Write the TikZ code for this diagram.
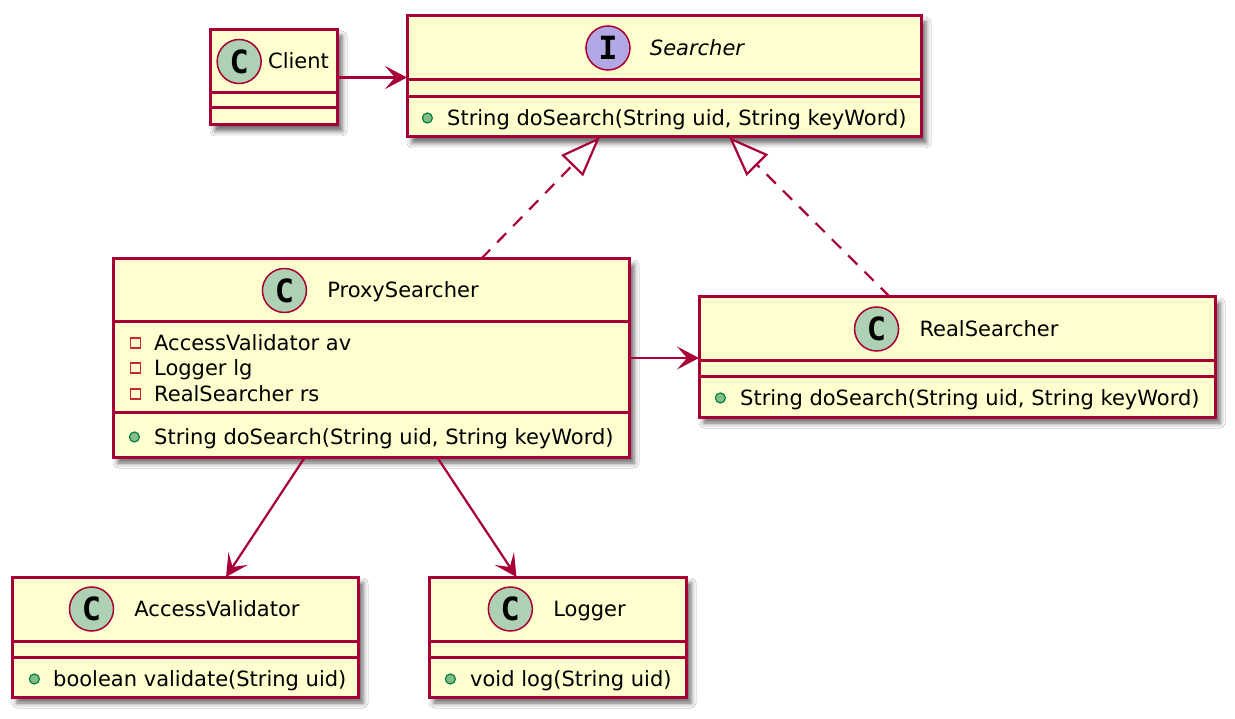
\documentclass[tikz,border=0pt]{standalone}
\usepackage{fontspec}
\setmainfont{DejaVu Sans}
\newfontfamily\iconfont{DejaVu Sans Mono}
\usetikzlibrary{positioning,arrows.meta,shadows.blur}
\definecolor{umlred}{HTML}{A80036}
\definecolor{umlfill}{HTML}{FEFECE}
\definecolor{umlgreen}{HTML}{ADD1B2}
\definecolor{umlviolet}{HTML}{B4A7E5}
\definecolor{pubfill}{HTML}{84BE84}
\definecolor{pubdraw}{HTML}{038048}
\definecolor{privdraw}{HTML}{C82930}
\newcommand\umlfont{\fontsize{21}{25}\selectfont}
\tikzset{
	classbox/.style={draw=umlred,fill=umlfill,line width=3pt,anchor=north west,
		inner sep=0pt,outer sep=0pt,
		blur shadow={shadow xshift=5pt,shadow yshift=-6pt,shadow blur radius=5pt,shadow opacity=60}},
	classline/.style={draw=umlred,line width=3pt},
	classicon/.style={circle,draw=umlred,line width=1.5pt,fill=umlgreen,minimum size=44pt,
		inner sep=0pt,font=\iconfont\bfseries\fontsize{32}{32}\selectfont},
	classname/.style={inner sep=0pt,text height=15pt,text depth=0pt},
	member/.style={anchor=west,inner sep=0pt,text height=15pt,text depth=0pt},
	pubdot/.style={circle,draw=pubdraw,fill=pubfill,line width=1.2pt,minimum size=10pt,inner sep=0pt},
	privbox/.style={rectangle,draw=privdraw,line width=1.5pt,minimum size=10pt,inner sep=0pt},
	assoc/.style={draw=umlred,line width=2.2pt,-{Stealth[length=22pt,width=23pt,inset=10pt]}},
	realize/.style={draw=umlred,line width=2.2pt,dash pattern=on 13pt off 10pt,
		-{Triangle[open,fill=white,length=40pt,width=30pt]}}
}
% separator line inside a class box, #2 below its top
\newcommand\umlsep[2]{\draw[classline]([yshift=-#2pt]#1.north west)--([yshift=-#2pt]#1.north east);}
\begin{document}
\begin{tikzpicture}[x=1pt,y=-1pt,font=\umlfont]
	\useasboundingbox[fill=white](0,0) rectangle (1235,719);
	% class boxes
	\node[classbox,minimum width=127pt,minimum height=95pt] (client) at (210,30) {};
	\node[classbox,minimum width=514pt,minimum height=121pt] (searcher) at (407,16) {};
	\node[classbox,minimum width=516pt,minimum height=198pt] (proxy) at (113,259) {};
	\node[classbox,minimum width=516pt,minimum height=120pt] (real) at (699,297) {};
	\node[classbox,minimum width=346pt,minimum height=120pt] (access) at (12,577) {};
	\node[classbox,minimum width=257pt,minimum height=120pt] (logger) at (429,577) {};
	\umlsep{client}{63}\umlsep{client}{78}
	\umlsep{searcher}{64}\umlsep{searcher}{81}
	\umlsep{proxy}{63}\umlsep{proxy}{154}
	\umlsep{real}{64}\umlsep{real}{80}
	\umlsep{access}{64}\umlsep{access}{80}
	\umlsep{logger}{64}\umlsep{logger}{80}
	% headers
	\node[classname] (clientname) at ([xshift=25pt,yshift=-31.5pt]client.north) {Client};
	\node[classicon,left=6pt of clientname] (clienticon) {C};
	\node[classname,font=\umlfont\itshape] (searchername) at ([xshift=33pt,yshift=-32pt]searcher.north) {Searcher};
	\node[classicon,fill=umlviolet,left=19pt of searchername] (searchericon) {I};
	\node[classname] (proxyname) at ([xshift=32pt,yshift=-31.5pt]proxy.north) {ProxySearcher};
	\node[classicon,left=20pt of proxyname] (proxyicon) {C};
	\node[classname] (realname) at ([xshift=32pt,yshift=-32pt]real.north) {RealSearcher};
	\node[classicon,left=20pt of realname] (realicon) {C};
	\node[classname] (accessname) at ([xshift=32pt,yshift=-32pt]access.north) {AccessValidator};
	\node[classicon,left=20pt of accessname] (accessicon) {C};
	\node[classname] (loggername) at ([xshift=32pt,yshift=-32pt]logger.north) {Logger};
	\node[classicon,left=20pt of loggername] (loggericon) {C};
	% members
	\node[member] (searcherop) at (447,118) {String doSearch(String uid, String keyWord)};
	\node[pubdot,left=14pt of searcherop] (searcheropdot) {};
	\node[member] (proxyav) at (154,343) {AccessValidator av};
	\node[privbox,left=13pt of proxyav] (proxyavbox) {};
	\node[member] (proxylg) at (154,368) {Logger lg};
	\node[privbox,left=13pt of proxylg] (proxylgbox) {};
	\node[member] (proxyrs) at (154,394) {RealSearcher rs};
	\node[privbox,left=13pt of proxyrs] (proxyrsbox) {};
	\node[member] (proxyop) at (154,437) {String doSearch(String uid, String keyWord)};
	\node[pubdot,left=14pt of proxyop] (proxyopdot) {};
	\node[member] (realop) at (740,398) {String doSearch(String uid, String keyWord)};
	\node[pubdot,left=14pt of realop] (realopdot) {};
	\node[member] (accessop) at (53,679) {boolean validate(String uid)};
	\node[pubdot,left=13pt of accessop] (accessopdot) {};
	\node[member] (loggerop) at (470,679) {void log(String uid)};
	\node[pubdot,left=14pt of loggerop] (loggeropdot) {};
	% relations
	\draw[assoc](client.east)--(client.east-|searcher.west);
	\draw[assoc](proxy.east)--(proxy.east-|real.west);
	\draw[assoc]([xshift=-66pt]proxy.south)--([xshift=41pt]access.north);
	\draw[assoc]([xshift=66pt]proxy.south)--([xshift=-41pt]logger.north);
	\draw[realize]([xshift=110pt]proxy.north)--([xshift=-64pt]searcher.south);
	\draw[realize]([xshift=-67pt]real.north)--([xshift=65pt]searcher.south);
\end{tikzpicture}
\end{document}
